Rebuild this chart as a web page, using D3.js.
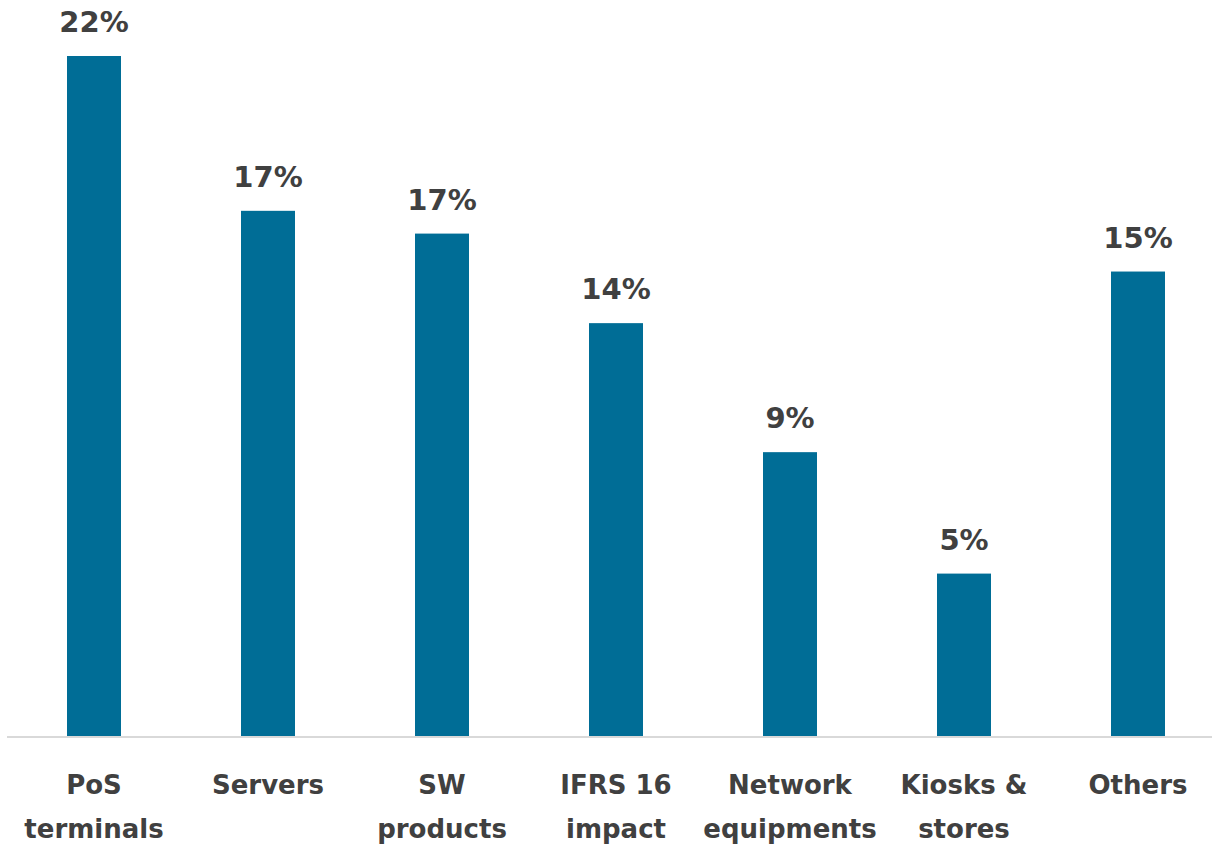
<!DOCTYPE html>
<html>
<head>
<meta charset="utf-8">
<script src="https://cdn.jsdelivr.net/npm/d3@7"></script>
<style>
  html, body { margin: 0; padding: 0; background: #ffffff; }
  svg { display: block; }
</style>
</head>
<body>
<svg id="chart" width="1212" height="846"></svg>
<script>
// Share of capex by category (%)
const categories = ["PoS terminals", "Servers", "SW products", "IFRS 16 impact", "Network equipments", "Kiosks & stores", "Others"];
const labelLines = [["PoS", "terminals"], ["Servers"], ["SW", "products"], ["IFRS 16", "impact"], ["Network", "equipments"], ["Kiosks &", "stores"], ["Others"]];
const shares = [22.4, 17.3, 16.55, 13.6, 9.35, 5.35, 15.3];

const W = 1212, H = 846;
const baseY = 736;
const svg = d3.select("#chart");

const x = d3.scaleBand()
  .domain(categories)
  .range([7, 1225])
  .paddingInner(120 / 174)
  .paddingOuter(60 / 174);

const y = d3.scaleLinear()
  .domain([0, 22.4])
  .range([baseY, 56]);

const fmt = v => d3.format(".0f")(v) + "%";
const textColor = "#404040";

// bars
svg.append("g")
  .selectAll("rect")
  .data(categories)
  .join("rect")
  .attr("x", d => x(d))
  .attr("width", x.bandwidth())
  .attr("y", (d, i) => y(shares[i]))
  .attr("height", (d, i) => baseY - y(shares[i]))
  .attr("fill", "#006d96");

// baseline
svg.append("line")
  .attr("x1", 7).attr("x2", W)
  .attr("y1", baseY + 1).attr("y2", baseY + 1)
  .attr("stroke", "#d9d9d9")
  .attr("stroke-width", 2);

// value labels
svg.append("g")
  .selectAll("text")
  .data(categories)
  .join("text")
  .attr("x", d => x(d) + x.bandwidth() / 2)
  .attr("y", (d, i) => y(shares[i]) - 24)
  .attr("text-anchor", "middle")
  .attr("font-family", "DejaVu Sans, sans-serif")
  .attr("font-weight", "bold")
  .attr("font-size", 29)
  .attr("fill", textColor)
  .text((d, i) => fmt(shares[i]));

// category labels
const cat = svg.append("g")
  .selectAll("text")
  .data(categories)
  .join("text")
  .attr("x", d => x(d) + x.bandwidth() / 2)
  .attr("y", 794)
  .attr("text-anchor", "middle")
  .attr("font-family", "DejaVu Sans, sans-serif")
  .attr("font-weight", "bold")
  .attr("font-size", 26)
  .attr("fill", textColor);

cat.selectAll("tspan")
  .data((d, i) => labelLines[i].map(t => ({ t, cx: x(d) + x.bandwidth() / 2 })))
  .join("tspan")
  .attr("x", d => d.cx)
  .attr("dy", (d, j) => j === 0 ? 0 : 44)
  .text(d => d.t);
</script>
</body>
</html>
